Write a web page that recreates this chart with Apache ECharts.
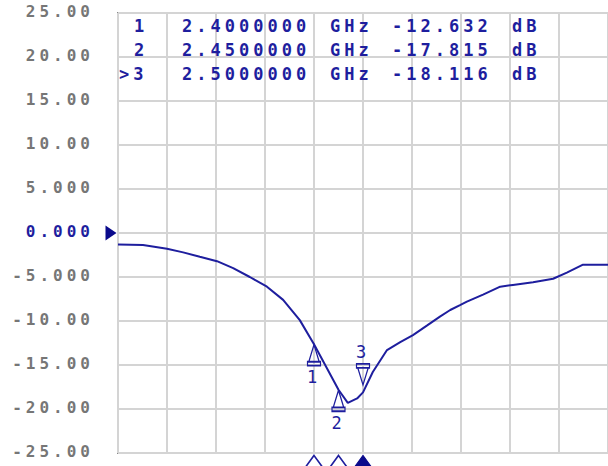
<!DOCTYPE html>
<html>
<head>
<meta charset="utf-8">
<script src="https://cdn.jsdelivr.net/npm/echarts@6/dist/echarts.min.js"></script>
<style>
  html, body { margin: 0; padding: 0; background: #ffffff; }
  #chart { width: 608px; height: 466px; }
  #chart text { letter-spacing: 4px; }
</style>
</head>
<body>
<div id="chart"></div>
<script>
// ---- data ----
const freqMHz = [2000, 2051, 2100, 2133, 2167, 2202, 2235, 2269, 2304, 2337, 2371, 2400, 2450, 2469, 2488, 2500, 2520, 2549, 2576, 2602, 2631, 2657, 2678, 2698, 2712, 2745, 2780, 2806, 2847, 2888, 2916, 2949, 2973, 3000];
const s11dB   = [-1.3, -1.36, -1.8, -2.2, -2.7, -3.2, -4.0, -5.0, -6.1, -7.6, -9.9, -12.632, -17.815, -19.3, -18.8, -18.116, -15.8, -13.3, -12.4, -11.6, -10.5, -9.5, -8.75, -8.2, -7.8, -7.0, -6.1, -5.9, -5.6, -5.2, -4.5, -3.6, -3.6, -3.6];

const markerIds    = ['1', '2', '3'];
const markerPrefix = ['', '', '>'];
const markerFreqMHz = [2400, 2450, 2500];
const markerFreqText = ['2.4000000', '2.4500000', '2.5000000'];
const markerValText  = ['-12.632', '-17.815', '-18.116'];
const markerVals     = [-12.632, -17.815, -18.116];
const activeMarker   = 2;

const yTickValues = [25, 20, 15, 10, 5, 0, -5, -10, -15, -20, -25];
const yTickLabels = ['25.00', '20.00', '15.00', '10.00', '5.000', '0.000', '-5.000', '-10.00', '-15.00', '-20.00', '-25.00'];
const refLevel = 0;
const xMin = 2000, xMax = 3000, xStep = 100;
const yMin = -25, yMax = 25, yStep = 5;

// ---- styles ----
const BLUE = '#1e1e9e';
const NAVY = '#0a0a8c';
const GRIDC = '#d4d4d4';
const FONT = 'DejaVu Sans Mono';

const chart = echarts.init(document.getElementById('chart'), null, { renderer: 'svg' });

const pts = freqMHz.map((f, i) => [f, s11dB[i]]);

const upPath = 'path://M5,0 L9,13 L1,13 Z M0,13 L10,13 L10,16 L0,16 Z';
const downPath = 'path://M0,0 L10,0 L10,3 L0,3 Z M1,3 L9,3 L5,16 Z';

const mpData = [];
markerIds.forEach((id, i) => {
  const isActive = i === activeMarker;
  mpData.push({
    coord: [markerFreqMHz[i], markerVals[i]],
    symbol: isActive ? downPath : upPath,
    symbolSize: [13, 21],
    symbolOffset: isActive ? [0, -18] : [0, 11],
    itemStyle: { color: 'rgba(255,255,255,0)', borderColor: BLUE, borderWidth: 1.5 },
    label: {
      show: true, formatter: id, position: isActive ? 'top' : 'bottom', distance: 2,
      color: BLUE, fontSize: 17, fontFamily: FONT
    }
  });
  // markers on the frequency axis
  mpData.push({
    coord: [markerFreqMHz[i], yMin],
    symbol: 'triangle',
    symbolSize: [19, 13],
    symbolOffset: [0, 9],
    itemStyle: isActive ? { color: NAVY, borderColor: NAVY, borderWidth: 1 }
                        : { color: '#ffffff', borderColor: BLUE, borderWidth: 1.5 },
    label: { show: false }
  });
});
// reference level arrow
mpData.push({
  coord: [xMin, refLevel],
  symbol: 'triangle',
  symbolRotate: -90,
  symbolSize: [15, 11],
  symbolOffset: [-7, 0],
  itemStyle: { color: NAVY, borderWidth: 0 },
  label: { show: false }
});

// marker readout table
const graphics = [];
const rowY = [25, 49, 73];
markerIds.forEach((id, i) => {
  const common = { fill: BLUE, fontSize: 17, fontWeight: 'bold', fontFamily: FONT, textAlign: 'left' };
  const idText = markerPrefix[i] + id;
  const top = rowY[i] - 8;
  graphics.push({ type: 'text', z: 100, left: markerPrefix[i] ? 119 : 134, top: top, style: Object.assign({ text: idText }, common) });
  graphics.push({ type: 'text', z: 100, left: 182, top: top, style: Object.assign({ text: markerFreqText[i] }, common) });
  graphics.push({ type: 'text', z: 100, left: 330, top: top, style: Object.assign({ text: 'GHz' }, common) });
  graphics.push({ type: 'text', z: 100, left: 392, top: top, style: Object.assign({ text: markerValText[i] }, common) });
  graphics.push({ type: 'text', z: 100, left: 512, top: top, style: Object.assign({ text: 'dB' }, common) });
});

chart.setOption({
  animation: false,
  backgroundColor: '#ffffff',
  grid: {
    left: 118, top: 13, width: 491, height: 440,
    show: true, borderColor: '#8a8a8a', borderWidth: 2, backgroundColor: 'transparent',
    containLabel: false
  },
  xAxis: {
    type: 'value', min: xMin, max: xMax, interval: xStep,
    axisLine: { show: false }, axisTick: { show: false }, axisLabel: { show: false },
    splitLine: { show: true, lineStyle: { color: GRIDC, width: 2 } }
  },
  yAxis: {
    type: 'value', min: yMin, max: yMax, interval: yStep,
    axisLine: { show: false }, axisTick: { show: false },
    axisLabel: {
      margin: 24, fontSize: 16, fontWeight: 'bold', fontFamily: FONT, color: '#767676',
      padding: [0, 0, 3, 0],
      formatter: function (v) {
        const i = yTickValues.indexOf(v);
        const t = i >= 0 ? yTickLabels[i] : String(v);
        return v === refLevel ? '{ref|' + t + '}' : t;
      },
      rich: { ref: { color: BLUE, fontSize: 16, fontWeight: 'bold', fontFamily: FONT } }
    },
    splitLine: { show: true, lineStyle: { color: GRIDC, width: 2 } }
  },
  series: [{
    type: 'line',
    data: pts,
    showSymbol: false,
    symbol: 'none',
    clip: false,
    lineStyle: { color: BLUE, width: 2 },
    markPoint: { data: mpData, animation: false, silent: true }
  }],
  graphic: graphics
});
</script>
</body>
</html>
